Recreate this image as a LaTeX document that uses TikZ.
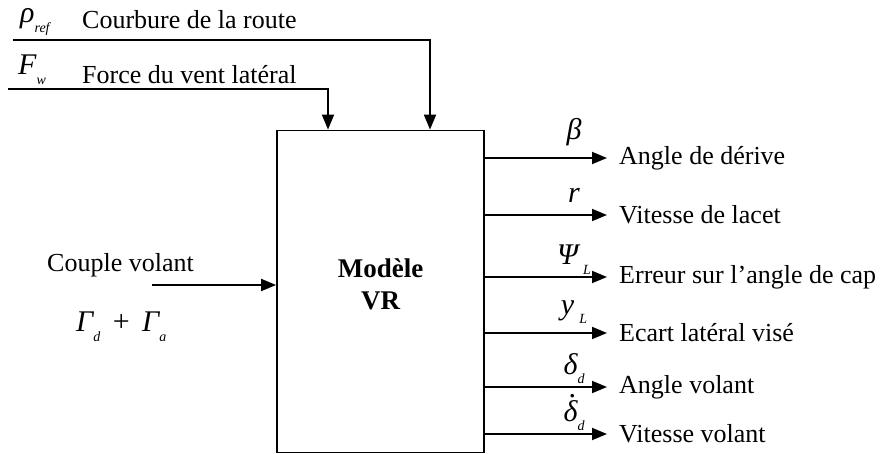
\documentclass[tikz,border=0pt]{standalone}
\usepackage{fontspec}
\setmainfont{Liberation Serif}
\usetikzlibrary{arrows.meta}
\newcommand{\lsub}[1]{\raisebox{-0.32em}[0pt][0pt]{\fontsize{14}{14}\selectfont\itshape #1}}
\newcommand{\ddelta}{\makebox[0pt][l]{\hspace{0.17em}\raisebox{0.8em}[0pt][0pt]{\upshape.}}δ}

\begin{document}
\begin{tikzpicture}[x=1pt, y=-1pt, font=\fontsize{26}{30}\selectfont,
    sig/.style={line width=1.8pt, -{Triangle[length=15pt,width=12pt]}},
    lbl/.style={inner sep=0pt, anchor=west},
    sym/.style={inner sep=0pt, font=\fontsize{30}{31}\selectfont\itshape}]
    \useasboundingbox (0,0) rectangle (885,454);

    \node[draw, line width=1.8pt, minimum width=207pt, minimum height=322pt, inner sep=0pt] (vr) at (380.5,291.5) {};
    \node[align=center, font=\fontsize{27}{32}\selectfont\bfseries] (vrname) at ([yshift=7pt]vr.center) {Modèle\\VR};

    \coordinate (rhoin) at (13,40);
    \coordinate (fwin) at (8,89);
    \coordinate (cin) at (152,285);
    \draw[sig] (rhoin) -| ([xshift=49.5pt]vr.north);
    \draw[sig] (fwin) -| ([xshift=-52.5pt]vr.north);
    \draw[sig] (cin) -- (vr.west |- cin);

    \node[sym, anchor=west] (rho) at (20,19) {ρ\lsub{ref}};
    \node[lbl] (rhotxt) at (82,20) {Courbure de la route};
    \node[sym, anchor=west] (fw) at (18,65) {F\lsub{w}};
    \node[lbl] (fwtxt) at (82,75) {Force du vent latéral};
    \node[lbl] (cvtxt) at (47,265) {Couple volant};
    \node[sym, anchor=west] (gam) at (76,322) {Γ\lsub{d}\, {\upshape+}\, Γ\lsub{a}};

    \foreach \yy/\sy/\txt [count=\i] in {158/β/Angle de dérive, 215/r/Vitesse de lacet, 277/{Ψ\,\lsub{L}}/Erreur sur l’angle de cap, 333/{y\,\lsub{L}}/Ecart latéral visé, 387/{δ\lsub{d}}/Angle volant, 434/{\ddelta\lsub{d}}/Vitesse volant} {
        \coordinate (o\i) at (607,\yy);
        \draw[sig] (vr.east |- o\i) -- node[sym, pos=0.73, anchor=south, yshift=11.5pt] (s\i) {\sy} (o\i);
        \node[lbl] (t\i) at ([xshift=12pt]o\i) {\txt};
    }
\end{tikzpicture}
\end{document}
